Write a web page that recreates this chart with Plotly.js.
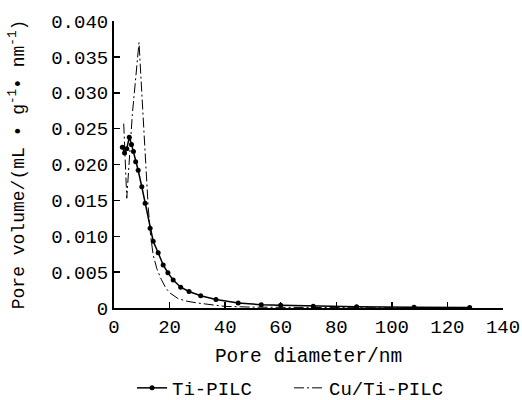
<!DOCTYPE html>
<html>
<head>
<meta charset="utf-8">
<script src="https://cdn.plot.ly/plotly-3.0.1.min.js"></script>
<style>html,body{margin:0;padding:0;background:#fff;}#chart{width:522px;height:400px;}</style>
</head>
<body>
<div id="chart"></div>
<script>
// Ti-PILC pore size distribution
const tiDiameter = [3.0, 3.8, 4.6, 5.5, 6.3, 7.0, 7.8, 8.7, 10.0, 11.2, 13.0, 14.1, 15.9, 17.7, 19.4, 21.3, 24.0, 27.0, 31.2, 36.7, 44.7, 53.0, 60.0, 71.7, 87.3, 108, 128];
const tiVolume   = [0.0224, 0.0216, 0.0222, 0.0238, 0.0228, 0.0218, 0.0204, 0.0192, 0.0169, 0.0146, 0.0111, 0.0093, 0.0077, 0.0060, 0.0049, 0.0039, 0.0029, 0.0023, 0.0017, 0.0012, 0.0007, 0.00045, 0.00038, 0.00025, 0.00017, 0.0001, 0.00006];
// Cu/Ti-PILC pore size distribution
const cuDiameter = [3.5, 4.6, 6.6, 8.2, 9.0, 10.0, 11.5, 12.3, 13.2, 14.1, 15.4, 17.0, 18.6, 20.1, 23.1, 26.2, 30.0, 35.2, 40.0, 50, 60, 75, 90, 110, 128];
const cuVolume   = [0.0257, 0.0153, 0.0270, 0.0335, 0.0370, 0.0300, 0.0195, 0.0141, 0.0100, 0.0074, 0.0055, 0.0040, 0.0028, 0.0021, 0.0013, 0.00095, 0.0007, 0.0004, 0.00022, 0.00012, 0.00008, 0.00005, 0.00003, 0.00002, 0.00001];
// tick labels
const xTickVals = [0, 20, 40, 60, 80, 100, 120, 140];
const xTickText = ["0", "20", "40", "60", "80", "100", "120", "140"];
const yTickVals = [0, 0.005, 0.010, 0.015, 0.020, 0.025, 0.030, 0.035, 0.040];
const yTickText = ["0", "0.005", "0.010", "0.015", "0.020", "0.025", "0.030", "0.035", "0.040"];

const FONT = "Liberation Mono, Courier New, monospace";

const traces = [
  {
    x: tiDiameter, y: tiVolume, name: "Ti-PILC", type: "scatter", mode: "lines+markers",
    line: {color: "#000", width: 1.5},
    marker: {color: "#000", size: 5}
  },
  {
    x: cuDiameter, y: cuVolume, name: "Cu/Ti-PILC", type: "scatter", mode: "lines",
    line: {color: "#000", width: 1, dash: "10px,3px,2px,3px"}
  }
];

const layout = {
  width: 522, height: 400,
  margin: {l: 114, r: 19, t: 20.5, b: 91.5, autoexpand: false},
  paper_bgcolor: "#fff", plot_bgcolor: "#fff",
  font: {family: FONT, size: 19, color: "#000"},
  showlegend: true,
  legend: {
    orientation: "h", x: 0.45, xanchor: "center", yref: "container", y: 0.03, yanchor: "middle",
    font: {family: FONT, size: 19, color: "#000"}, itemwidth: 30,
    entrywidth: 112, entrywidthmode: "pixels"
  },
  xaxis: {
    range: [0, 140], tickmode: "array", tickvals: xTickVals, ticktext: xTickText,
    ticks: "inside", ticklen: 6, tickwidth: 1.5, tickcolor: "#000",
    showline: true, linecolor: "#000", linewidth: 2, showgrid: false, zeroline: false,
    tickfont: {family: FONT, size: 19, color: "#000"},
    title: {text: "Pore diameter/nm", font: {family: FONT, size: 19.5, color: "#000"}, standoff: 11}
  },
  yaxis: {
    range: [0, 0.040], tickmode: "array", tickvals: yTickVals, ticktext: yTickText,
    ticks: "inside", ticklen: 6, tickwidth: 1.5, tickcolor: "#000",
    showline: true, linecolor: "#000", linewidth: 2, showgrid: false, zeroline: false,
    tickfont: {family: FONT, size: 19, color: "#000"},
    title: {text: "Pore volume/(mL • g<sup>-1</sup>• nm<sup>-1</sup>)", font: {family: FONT, size: 18, color: "#000"}, standoff: 22}
  }
};

Plotly.newPlot("chart", traces, layout, {displayModeBar: false, staticPlot: true});
</script>
</body>
</html>
